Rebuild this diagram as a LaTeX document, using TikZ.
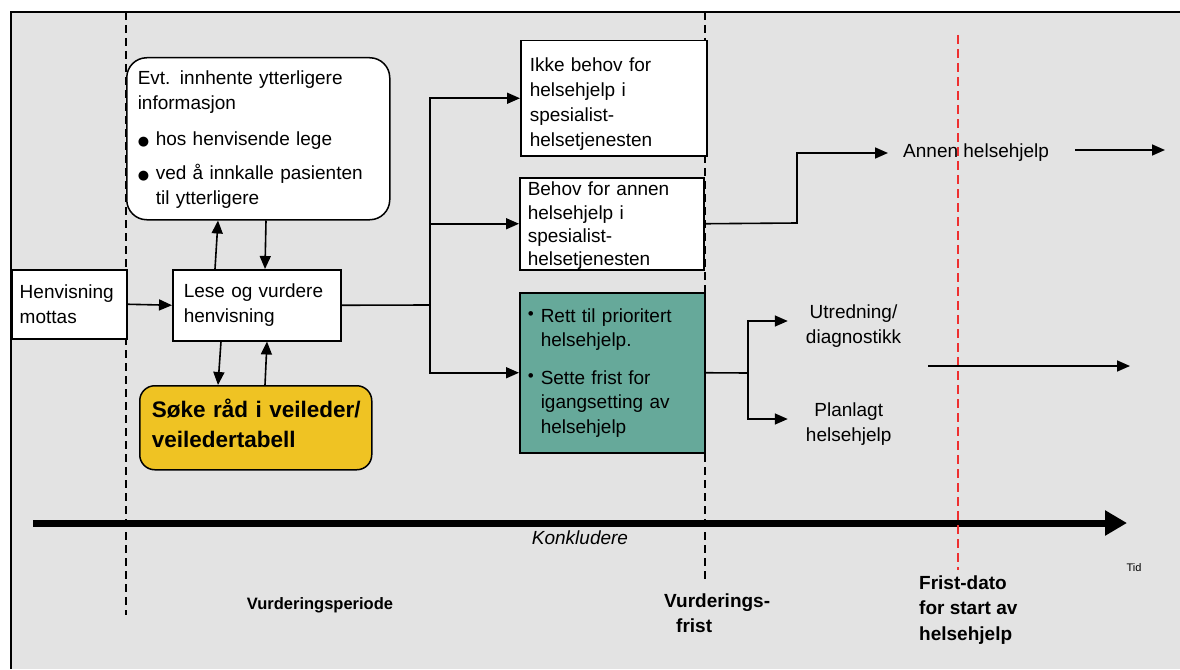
\documentclass[tikz,border=0pt]{standalone}
\usepackage{fontspec}
\setmainfont{Liberation Sans}
\newfontfamily\symfont{DejaVu Sans}
\usetikzlibrary{arrows.meta}
\definecolor{panelgray}{RGB}{227,227,227}
\definecolor{tealbox}{RGB}{102,169,154}
\definecolor{goldbox}{RGB}{239,195,35}
\definecolor{redline}{RGB}{238,48,48}
% bullets used in the list boxes
\newcommand{\bigdot}{\makebox[18pt][l]{\symfont\fontsize{13}{13}\selectfont ●}}
\newcommand{\smalldot}{\makebox[13pt][l]{\raisebox{3pt}{\fontsize{17}{17}\selectfont\textbullet}}}
\begin{document}
\begin{tikzpicture}[x=1pt,y=-1pt,
  txt/.style={font=\fontsize{19}{24.5}\selectfont},
  box/.style={draw=black, line width=1.5pt, fill=white, anchor=north west,
              align=left, inner ysep=0pt, txt},
  link/.style={line width=1.6pt},
  arr/.style={link, -{Triangle[length=13pt,width=11pt]}},
  vdash/.style={line width=2pt, dash pattern=on 8pt off 5pt},
  label/.style={font=\fontsize{19}{25.5}\selectfont\bfseries, align=left, anchor=west, inner sep=0pt},
  ]
\useasboundingbox (0,0) rectangle (1180,669);
% panel
\fill[white] (0,0) rectangle (1180,669);
\fill[panelgray] (11,12) rectangle (1180,669);
\draw[line width=2pt] (11,669) -- (11,12) -- (1180,12);

% time axis
\coordinate (t0) at (33,523);
\coordinate (t1) at (1127,523);
\draw[line width=7pt, -{Triangle[length=22pt,width=24pt]}] (t0) -- (t1);

% period markers
\draw[vdash] (126,12) -- (126,615);
\draw[vdash] (705,12) -- (705,580);
\draw[vdash, draw=redline, line width=2.5pt, dash pattern=on 9pt off 5pt] (958,35) -- (958,570);

% boxes
\node[box, text width=99pt, inner xsep=8pt, minimum height=69pt] (henv) at (11,269)
  {Henvisning\\mottas};
\node[box, text width=146pt, inner xsep=11pt, minimum height=71pt] (lese) at (172,269)
  {Lese og vurdere\\henvisning};
\node[box, rounded corners=20pt, text width=241pt, inner xsep=11pt, minimum height=162pt,
      font=\fontsize{19}{25}\selectfont] (evt) at (126,57)
  {\rule{0pt}{15pt}Evt. innhente ytterligere\\informasjon\\[11pt]\bigdot hos henvisende lege\\[9pt]\bigdot ved å innkalle pasienten\\\hspace*{18pt}til ytterligere};
\node[box, fill=goldbox, rounded corners=15pt, text width=208pt, inner xsep=12pt, minimum height=84pt,
      font=\fontsize{22.5}{30}\selectfont\bfseries] (soke) at (139,385)
  {\mbox{Søke råd i veileder/}\\veiledertabell\rule[-10pt]{0pt}{10pt}};
\node[box, text width=168pt, inner xsep=9pt, minimum height=115pt,
      font=\fontsize{19}{25}\selectfont] (ikke) at (520,40)
  {\rule{0pt}{26pt}Ikke behov for\\helsehjelp i\\spesialist-\\helsetjenesten};
\node[box, text width=168pt, inner xsep=8pt, minimum height=92pt,
      font=\fontsize{19}{23.3}\selectfont] (behov) at (519,177)
  {\rule{0pt}{18pt}Behov for annen\\helsehjelp i\\spesialist-\\helsetjenesten};
\node[box, fill=tealbox, text width=169pt, inner xsep=8pt, minimum height=160pt] (green) at (519,292)
  {\smalldot Rett til prioritert\\\hspace*{13pt}helsehjelp.\\[13pt]\smalldot Sette frist for\\\hspace*{13pt}igangsetting av\\\hspace*{13pt}helsehjelp};

% outcome labels
\node[txt, anchor=west, inner xsep=15pt, inner ysep=0pt] (annen) at (888,153) {Annen helsehjelp};
\node[txt, align=center, inner xsep=18pt, inner ysep=0pt] (utr) at (853.5,326) {Utredning/\\diagnostikk};
\node[txt, align=center, inner xsep=18pt, inner ysep=0pt] (plan) at (848.75,424) {Planlagt\\helsehjelp};

% connectors
\coordinate (fork) at (430,305);
\coordinate (gfork) at (748,373);
\coordinate (bend) at (797,223);
\draw[arr] (henv.east) -- (lese.west);
\draw[arr] ([xshift=43pt]lese.north west) -- ([xshift=92pt]evt.south west);
\draw[arr] ([xshift=140pt]evt.south west) -- ([xshift=93pt]lese.north west);
\draw[arr] ([xshift=49pt]lese.south west) -- ([xshift=79pt]soke.north west);
\draw[arr] ([xshift=126pt]soke.north west) -- ([xshift=95pt]lese.south west);
\draw[link] (lese.east) -- (fork);
\draw[arr] (fork) |- (ikke.west);
\draw[arr] (fork) |- (behov.west);
\draw[arr] (fork) |- (green.west);
\draw[arr] (behov.east) -- (bend) |- (annen.west);
\draw[link] (green.east) -- (gfork);
\draw[arr] (gfork) |- ([yshift=5pt]utr.west);
\draw[arr] (gfork) |- ([yshift=5pt]plan.west);
\coordinate (a1) at (1075,150);
\coordinate (a2) at (1165,150);
\draw[arr] (a1) -- (a2);
\coordinate (p1) at (928,366);
\coordinate (p2) at (1130,366);
\draw[arr] (p1) -- (p2);

% axis texts
\node[font=\fontsize{19}{24}\selectfont\itshape] (konk) at (580,538) {Konkludere};
\node[font=\fontsize{11}{13}\selectfont] (tid) at (1134,568) {Tid};
\node[font=\fontsize{16.5}{20}\selectfont\bfseries] (vper) at (320,605) {Vurderingsperiode};
\node[label] (vfrist) at (664,613) {Vurderings-\\\hspace*{12pt}frist};
\node[label] (fdato) at (919,610) {Frist-dato\\for start av\\helsehjelp};
\end{tikzpicture}
\end{document}
